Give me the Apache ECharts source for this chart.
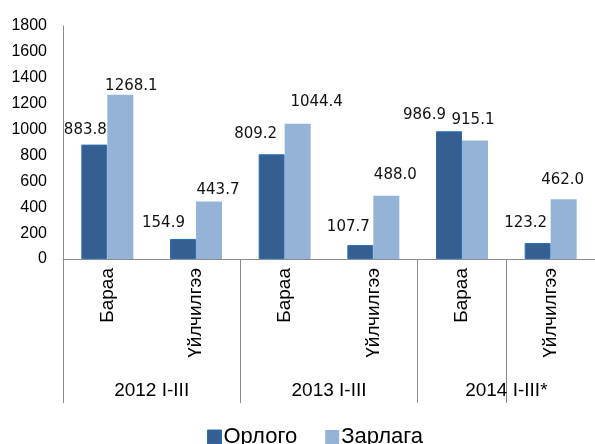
<!DOCTYPE html>
<html>
<head>
<meta charset="utf-8">
<script src="https://cdn.jsdelivr.net/npm/echarts@6/dist/echarts.min.js"></script>
<style>
  html, body { margin: 0; padding: 0; background: #fff; }
  #chart { width: 595px; height: 444px; }
</style>
</head>
<body>
<div id="chart"></div>
<script>
// категориуд (доод түвшин) ба бүлгүүд (дээд түвшин)
const categories = ['Бараа', 'Үйлчилгээ', 'Бараа', 'Үйлчилгээ', 'Бараа', 'Үйлчилгээ']
const groups = ['2012 I-III', '2013 I-III', '2014 I-III*']
const seriesNames = ['Орлого', 'Зарлага']

// утгууд
const orlogo = [883.8, 154.9, 809.2, 107.7, 986.9, 123.2]
const zarlaga = [1268.1, 443.7, 1044.4, 488.0, 915.1, 462.0]

// шошгыг гараар зөөсөн байдал (Excel-ээс)
const orlogoLabelShift = [[-9, -1.5], [-19.5, -3], [-16, -7.5], [-12, -5.5], [-24.5, -4], [-12, -7]]
const zarlagaLabelShift = [[11, 3.5], [9, 1.5], [19, -9.5], [9, -8.5], [-2, -7.5], [-1, -6.5]]

const DARK = '#365F91'
const LIGHT = '#95B3D7'
const AXIS = '#8C8C8C'
const FONT = '"Liberation Sans", Arial, sans-serif'

const withShift = (values, shifts) =>
  values.map((v, i) => ({ value: v, label: { offset: shifts[i] } }))

const labelStyle = {
  show: true,
  position: 'top',
  distance: 5,
  fontFamily: '"DejaVu Sans", sans-serif',
  fontSize: 15,
  color: '#111',
  formatter: p => p.value.toFixed(1)
}

const chart = echarts.init(document.getElementById('chart'))

chart.setOption({
  animation: false,
  grid: { left: 63, right: -11, top: 26, bottom: 185 },
  legend: {
    data: [
      { name: seriesNames[0], itemStyle: { borderColor: '#2A6FB8', borderWidth: 1 } },
      { name: seriesNames[1] }
    ],
    left: 202,
    top: 421,
    itemWidth: 14,
    itemHeight: 14,
    itemGap: 28,
    icon: 'rect',
    textStyle: { fontFamily: FONT, fontSize: 22, color: '#000', padding: [2, 0, 0, -3] }
  },
  xAxis: [
    {
      type: 'category',
      data: categories,
      axisLine: { show: true, lineStyle: { color: AXIS, width: 1 } },
      axisTick: { show: true, interval: 1, length: 144, lineStyle: { color: AXIS } },
      axisLabel: {
        rotate: 90,
        interval: 0,
        margin: 9,
        fontFamily: FONT,
        fontSize: 19,
        color: '#000'
      },
      splitLine: { show: false }
    },
    {
      type: 'category',
      data: groups,
      position: 'bottom',
      offset: 114,
      axisLine: { show: false },
      axisTick: { show: false },
      axisLabel: { margin: 8, fontFamily: FONT, fontSize: 19, color: '#000' },
      splitLine: { show: false }
    }
  ],
  yAxis: {
    type: 'value',
    min: 0,
    max: 1800,
    interval: 200,
    axisLine: { show: true, lineStyle: { color: AXIS, width: 1 } },
    axisTick: { show: false },
    splitLine: { show: false },
    axisLabel: {
      margin: 16,
      fontFamily: FONT,
      fontSize: 16,
      color: '#000',
      formatter: v => String(v)
    }
  },
  series: [
    {
      name: seriesNames[0],
      type: 'bar',
      barWidth: 26,
      barGap: '0%',
      itemStyle: { color: DARK, borderColor: '#2A6FB8', borderWidth: 1 },
      label: labelStyle,
      data: withShift(orlogo, orlogoLabelShift)
    },
    {
      name: seriesNames[1],
      type: 'bar',
      barWidth: 26,
      barGap: '0%',
      itemStyle: { color: LIGHT },
      label: labelStyle,
      data: withShift(zarlaga, zarlagaLabelShift)
    }
  ]
})
</script>
</body>
</html>
